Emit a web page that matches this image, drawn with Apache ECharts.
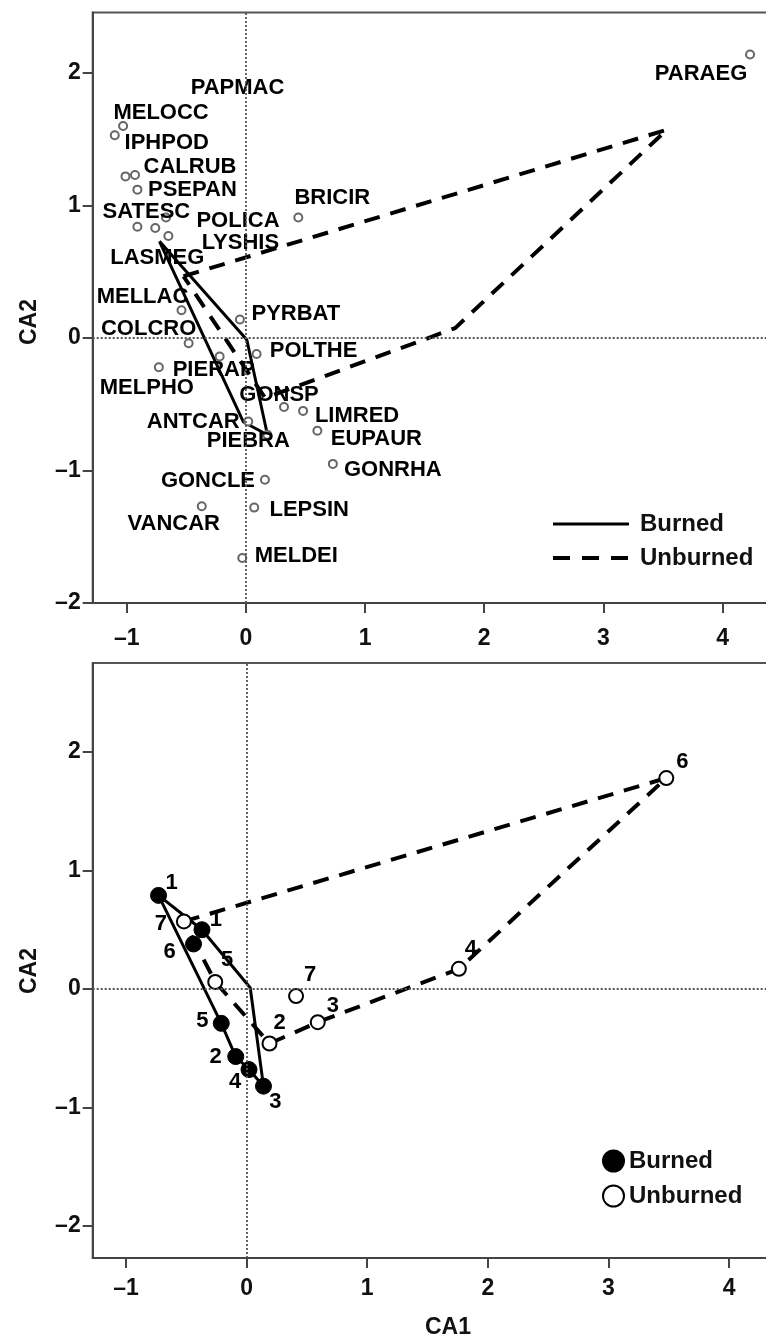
<!DOCTYPE html>
<html>
<head>
<meta charset="utf-8">
<script src="https://cdn.jsdelivr.net/npm/echarts@6/dist/echarts.min.js"></script>
<style>
html, body { margin: 0; padding: 0; background: #fff; }
#box1 { position: absolute; left: 0; top: 0; width: 766px; height: 655px; }
#box2 { position: absolute; left: 0; top: 655px; width: 766px; height: 687px; }
</style>
</head>
<body>
<div id="box1"></div>
<div id="box2"></div>
<script>
// species scores (upper panel)
var speciesNames = ['PAPMAC', 'MELOCC', 'IPHPOD', 'CALRUB', 'PSEPAN', 'SATESC', 'POLICA', 'LYSHIS', 'LASMEG',
    'BRICIR', 'PARAEG', 'MELLAC', 'PYRBAT', 'COLCRO', 'POLTHE', 'PIERAP', 'MELPHO', 'GONSP', 'LIMRED',
    'ANTCAR', 'EUPAUR', 'PIEBRA', 'GONRHA', 'GONCLE', 'LEPSIN', 'VANCAR', 'MELDEI'];
var speciesCA1 = [-1.01, -1.03, -1.10, -0.93, -0.91, -0.91, -0.67, -0.65, -0.76,
    0.44, 4.23, -0.54, -0.05, -0.48, 0.09, -0.22, -0.73, 0.32, 0.48,
    0.02, 0.60, 0.18, 0.73, 0.16, 0.07, -0.37, -0.03];
var speciesCA2 = [1.22, 1.60, 1.53, 1.23, 1.12, 0.84, 0.91, 0.77, 0.83,
    0.91, 2.14, 0.21, 0.14, -0.04, -0.12, -0.14, -0.22, -0.52, -0.55,
    -0.63, -0.70, -0.73, -0.95, -1.07, -1.28, -1.27, -1.66];

// hull outlines drawn in the upper panel
var hullBurnedTop = [[-0.725, 0.73], [0.008, -0.013], [0.181, -0.73], [-0.02, -0.634], [-0.725, 0.73]];
var hullUnburnedTop = [[-0.523, 0.466], [3.532, 1.572], [1.756, 0.075], [0.162, -0.453], [-0.523, 0.466]];

// site scores (lower panel)
var burnedSites = ['1', '1', '6', '5', '2', '4', '3'];
var burnedCA1 = [-0.73, -0.37, -0.44, -0.21, -0.09, 0.02, 0.14];
var burnedCA2 = [0.79, 0.50, 0.38, -0.29, -0.57, -0.68, -0.82];
var unburnedSites = ['7', '5', '7', '3', '2', '4', '6'];
var unburnedCA1 = [-0.52, -0.26, 0.41, 0.59, 0.19, 1.76, 3.48];
var unburnedCA2 = [0.57, 0.06, -0.06, -0.28, -0.46, 0.17, 1.78];

var hullBurnedBottom = [[-0.73, 0.79], [-0.37, 0.50], [0.03, 0.01], [0.14, -0.82], [0.02, -0.68],
    [-0.09, -0.57], [-0.21, -0.29], [-0.73, 0.79]];
var hullUnburnedBottom = [[-0.52, 0.57], [3.48, 1.78], [1.76, 0.17], [0.59, -0.28], [0.19, -0.46],
    [-0.26, 0.06], [-0.52, 0.57]];

var xTicks = [-1, 0, 1, 2, 3, 4];
var yTicks = [-2, -1, 0, 1, 2];

// label placement (pixel offsets from the point)
var speciesLabelOffset = {
    PAPMAC: [112, -88], MELOCC: [38, -13], IPHPOD: [52, 8], CALRUB: [55, -8], PSEPAN: [55, 0],
    SATESC: [9, -15], POLICA: [72, 3], LYSHIS: [72, 7], LASMEG: [2, 30], BRICIR: [34, -20],
    PARAEG: [-49, 19], MELLAC: [-39, -13], PYRBAT: [56, -6], COLCRO: [-40, -14], POLTHE: [57, -3],
    PIERAP: [-6, 13], MELPHO: [-12, 21], GONSP: [-5, -12], LIMRED: [54, 5], ANTCAR: [-55, 0],
    EUPAUR: [59, 8], PIEBRA: [-19, 6], GONRHA: [60, 6], GONCLE: [-57, 1], LEPSIN: [55, 2],
    VANCAR: [-28, 18], MELDEI: [54, -2]
};
var burnedLabelOffset = [[13, -12], [14, -10], [-24, 8], [-19, -2], [-20, 0], [-14, 12], [12, 16]];
var unburnedLabelOffset = [[-23, 2], [12, -22], [14, -21], [15, -16], [10, -21], [12, -20], [16, -16]];

var FONT = '"Liberation Sans", Arial, sans-serif';

function fmt(v) {
    return v < 0 ? '\u2013' + Math.abs(v) : String(v);
}

function makeAxes(xmin, xmax, ymin, ymax, xMargin) {
    var axisLine = { show: true, onZero: false, lineStyle: { color: '#444', width: 2 } };
    var tickStyle = { color: '#444', width: 2 };
    var labelStyle = { color: '#111', fontSize: 23, fontWeight: 'bold', fontFamily: FONT, formatter: fmt };
    return {
        xAxis: {
            type: 'value', min: xmin, max: xmax,
            axisLine: axisLine,
            axisTick: { show: true, inside: false, length: 10, customValues: xTicks, lineStyle: tickStyle },
            axisLabel: Object.assign({ customValues: xTicks, margin: xMargin }, labelStyle),
            splitLine: { show: false }
        },
        yAxis: {
            type: 'value', min: ymin, max: ymax,
            axisLine: axisLine,
            axisTick: { show: true, inside: false, length: 10, customValues: yTicks, lineStyle: tickStyle },
            axisLabel: Object.assign({ customValues: yTicks, margin: 12 }, labelStyle),
            splitLine: { show: false }
        }
    };
}

var zeroLines = {
    silent: true,
    symbol: 'none',
    label: { show: false },
    lineStyle: { color: '#555', width: 1.8, type: [2, 2] },
    data: [{ xAxis: 0 }, { yAxis: 0 }]
};

function axisTitle(text, x, y, rotate) {
    return {
        type: 'text', x: x, y: y, rotation: rotate ? Math.PI / 2 : 0,
        style: { text: text, font: 'bold 23px ' + FONT, fill: '#111', textAlign: 'center', textVerticalAlign: 'middle' }
    };
}

var legendText = { fontSize: 24, fontWeight: 'bold', color: '#111', fontFamily: FONT, lineHeight: 24 };

// upper panel
var myChart1 = echarts.init(document.getElementById('box1'));
var axes1 = makeAxes(-1.285, 4.504, -2, 2.457, 24);
var speciesData = speciesNames.map(function (n, i) {
    return { name: n, value: [speciesCA1[i], speciesCA2[i]], label: { offset: speciesLabelOffset[n] } };
});
var option1 = {
    animation: false,
    grid: { left: 92.7, top: 12.5, width: 690, height: 590.5, show: true, borderColor: '#555', borderWidth: 2,
        backgroundColor: 'transparent', outerBoundsMode: 'none' },
    xAxis: axes1.xAxis,
    yAxis: axes1.yAxis,
    legend: {
        data: [
            { name: 'Burned', lineStyle: { color: '#000', width: 3, type: 'solid' } },
            { name: 'Unburned', lineStyle: { color: '#000', width: 4, type: [17, 12] } }
        ],
        orient: 'vertical', left: 546, top: 507,
        itemWidth: 76, itemHeight: 14, itemGap: 10, selectedMode: false,
        itemStyle: { opacity: 0 },
        textStyle: Object.assign({ padding: [0, 0, 0, 6] }, legendText)
    },
    graphic: [axisTitle('CA2', 30, 322, true)],
    series: [
        {
            name: 'Burned', type: 'line', data: hullBurnedTop, symbol: 'none', silent: true, z: 2,
            itemStyle: { color: '#000' },
            lineStyle: { color: '#000', width: 3, type: 'solid' },
            markLine: zeroLines
        },
        {
            name: 'Unburned', type: 'line', data: hullUnburnedTop, symbol: 'none', silent: true, z: 2,
            itemStyle: { color: '#000' },
            lineStyle: { color: '#000', width: 4, type: [16, 11] }
        },
        {
            name: 'species', type: 'scatter', data: speciesData, symbol: 'circle', symbolSize: 8, z: 3,
            itemStyle: { color: '#fff', borderColor: '#666', borderWidth: 2, opacity: 1 },
            label: {
                show: true, formatter: '{b}', position: 'inside',
                fontSize: 22, fontWeight: 'bold', color: '#000', fontFamily: FONT
            }
        }
    ]
};
myChart1.setOption(option1, true);

// lower panel
var myChart2 = echarts.init(document.getElementById('box2'));
var axes2 = makeAxes(-1.276, 4.445, -2.27, 2.751, 19);
var burnedData = burnedSites.map(function (s, i) {
    return { name: s, value: [burnedCA1[i], burnedCA2[i]], label: { offset: burnedLabelOffset[i] } };
});
var unburnedData = unburnedSites.map(function (s, i) {
    return { name: s, value: [unburnedCA1[i], unburnedCA2[i]], label: { offset: unburnedLabelOffset[i] } };
});
var siteLabel = {
    show: true, formatter: '{b}', position: 'inside',
    fontSize: 22, fontWeight: 'bold', color: '#000', fontFamily: FONT
};
var option2 = {
    animation: false,
    grid: { left: 92.7, top: 8, width: 690, height: 595, show: true, borderColor: '#555', borderWidth: 2,
        backgroundColor: 'transparent', outerBoundsMode: 'none' },
    xAxis: axes2.xAxis,
    yAxis: axes2.yAxis,
    legend: {
        data: ['Burned', 'Unburned'], orient: 'vertical', left: 597, top: 489,
        itemWidth: 21, itemHeight: 21, itemGap: 11, selectedMode: false,
        textStyle: legendText
    },
    graphic: [axisTitle('CA2', 30, 316, true), axisTitle('CA1', 448, 673, false)],
    series: [
        {
            name: 'burnedHull', type: 'line', data: hullBurnedBottom, symbol: 'none', silent: true, z: 2,
            lineStyle: { color: '#000', width: 3, type: 'solid' },
            markLine: zeroLines
        },
        {
            name: 'unburnedHull', type: 'line', data: hullUnburnedBottom, symbol: 'none', silent: true, z: 2,
            lineStyle: { color: '#000', width: 4, type: [16, 11] }
        },
        {
            name: 'Burned', type: 'scatter', data: burnedData, symbol: 'circle', symbolSize: 16, z: 3,
            itemStyle: { color: '#000', borderColor: '#000', borderWidth: 1, opacity: 1 },
            label: siteLabel
        },
        {
            name: 'Unburned', type: 'scatter', data: unburnedData, symbol: 'circle', symbolSize: 14, z: 3,
            itemStyle: { color: '#fff', borderColor: '#000', borderWidth: 2, opacity: 1 },
            label: siteLabel
        }
    ]
};
myChart2.setOption(option2, true);
</script>
</body>
</html>
